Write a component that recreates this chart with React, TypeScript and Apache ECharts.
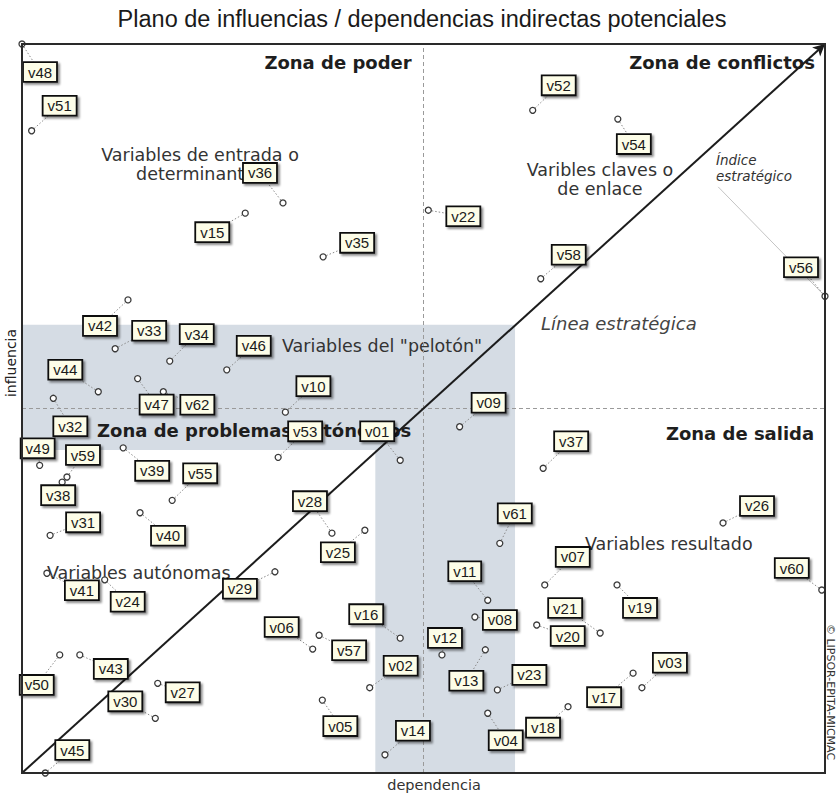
import { useEffect, useRef } from 'react';
import * as echarts from 'echarts';

// Variables (MICMAC plane, indirect potential influences / dependences)
const variables = [
  'v01','v02','v03','v04','v05','v06','v07','v08','v09','v10',
  'v11','v12','v13','v14','v15','v16','v17','v18','v19','v20',
  'v21','v22','v23','v24','v25','v26','v27','v28','v29','v30',
  'v31','v32','v33','v34','v35','v36','v37','v38','v39','v40',
  'v41','v42','v43','v44','v45','v46','v47','v48','v49','v50',
  'v51','v52','v53','v54','v55','v56','v57','v58','v59','v60',
  'v61','v62',
];

// dependence (x) in % of the axis range
const dependence = [
  47.1, 43.3, 77.2, 58.0, 37.4, 36.2, 65.1, 56.4, 54.5, 32.8,
  58.0, 52.3, 57.7, 45.2, 27.8, 47.1, 76.1, 68.0, 74.1, 64.1,
  72.0, 50.6, 59.2, 10.3, 42.7, 87.3, 16.9, 38.6, 31.5, 16.6,
  3.5, 3.9, 11.6, 18.4, 37.5, 32.5, 64.9, 5.0, 12.6, 14.7,
  3.1, 13.2, 7.2, 9.5, 2.9, 25.5, 14.4, 0.0, 2.2, 4.7,
  1.2, 63.6, 31.9, 74.2, 18.7, 100.0, 37.0, 64.6, 5.6, 99.6,
  59.5, 17.6,
];

// influence (y) in % of the axis range
const influence = [
  42.9, 11.7, 11.7, 8.2, 10.0, 17.0, 25.8, 21.4, 47.5, 49.5,
  23.7, 16.2, 16.9, 2.5, 76.8, 18.5, 13.7, 9.1, 25.8, 20.3,
  19.2, 77.2, 11.4, 26.5, 33.3, 34.3, 12.3, 32.9, 27.6, 7.5,
  32.6, 51.4, 58.2, 56.5, 70.8, 78.2, 41.8, 39.9, 44.6, 35.7,
  27.4, 64.9, 16.2, 52.3, 0.0, 55.3, 54.1, 100.0, 42.2, 16.2,
  88.1, 90.9, 43.3, 89.7, 37.4, 65.4, 18.9, 67.8, 40.6, 25.1,
  31.5, 52.3,
];

// label displacement (pixels) relative to the point
const labelOffsets = [
  [-23,-29],[31,-22],[28,-25],[18,27],[18,26],[-31,-22],[28,-28],[25,3],[29,-24],[28,-26],
  [-23,-29],[3,-17],[-19,31],[28,-24],[-33,19],[-34,-24],[-29,24],[-25,21],[23,23],[31,11],
  [-35,-25],[35,6],[32,-15],[23,22],[-27,22],[34,-17],[25,9],[-22,-32],[-35,17],[-30,-17],
  [33,-13],[17,28],[34,-18],[27,-27],[34,-14],[-23,-30],[28,-27],[-4,13],[29,23],[28,23],
  [35,17],[-28,26],[31,14],[-33,-22],[27,-23],[27,-24],[19,26],[18,28],[-2,-17],[-23,30],
  [28,-25],[26,-25],[27,-26],[16,25],[28,-27],[-24,-29],[30,15],[28,-24],[16,-22],[-30,-22],
  [15,-30],[34,13],
];

const meanDependence = 50;
const meanInfluence = 50;
// "pelotón" band
const bandDependence = [44.0, 61.4];
const bandInfluence = [44.3, 61.5];
// strategic index guide (perpendicular towards v56)
const strategicIndexLine = [[86.7, 80.4], [100, 65.4]];

const FONT = '"DejaVu Sans", Verdana, sans-serif';

function txt(text: string, x: number, y: number, opts: any = {}) {
  const align = opts.align || 'left';
  return {
    type: 'text',
    x,
    y,
    rotation: opts.rotation || 0,
    z: 4,
    silent: true,
    style: {
      text,
      fill: opts.color || '#1e1e1e',
      font: opts.font,
      align,
      textAlign: align,
      verticalAlign: 'middle',
      textVerticalAlign: 'middle',
      lineHeight: opts.lineHeight,
    },
  };
}

export default function App() {
  const ref = useRef<HTMLDivElement>(null);

  useEffect(() => {
    if (!ref.current) return;
    const chart = echarts.init(ref.current, undefined, { renderer: 'svg' });
    const data = variables.map((n, i) => [dependence[i], influence[i], n]);

    const option: any = {
      animation: false,
      backgroundColor: '#ffffff',
      grid: {
        left: 22, right: 12, top: 44, bottom: 22,
        show: true, borderColor: '#2a2a2a', borderWidth: 2, z: 10,
        backgroundColor: 'transparent',
      },
      xAxis: {
        type: 'value', min: 0, max: 100,
        axisLine: { show: false }, axisTick: { show: false },
        axisLabel: { show: false }, splitLine: { show: false },
      },
      yAxis: {
        type: 'value', min: 0, max: 100,
        axisLine: { show: false }, axisTick: { show: false },
        axisLabel: { show: false }, splitLine: { show: false },
      },
      graphic: [
        txt('Plano de influencias / dependencias indirectas potenciales', 422, 19,
          { align: 'center', font: '23.5px "Liberation Sans", Arial, sans-serif', color: '#1a1a1a' }),
        txt('Zona de poder', 338, 62, { align: 'center', font: `bold 18px ${FONT}` }),
        txt('Zona de conflictos', 722, 62, { align: 'center', font: `bold 18px ${FONT}` }),
        txt('Zona de problemas autónomos', 97, 430, { font: `bold 18px ${FONT}` }),
        txt('Zona de salida', 740, 433, { align: 'center', font: `bold 18px ${FONT}` }),
        txt('Variables de entrada o\ndeterminantes', 200, 164,
          { align: 'center', font: `17.5px ${FONT}`, lineHeight: 19, color: '#333' }),
        txt('Varibles claves o\nde enlace', 600, 179,
          { align: 'center', font: `17.5px ${FONT}`, lineHeight: 19, color: '#333' }),
        txt('Índice\nestratégico', 716, 168,
          { font: `italic 13.5px ${FONT}`, lineHeight: 16, color: '#333' }),
        txt('Línea estratégica', 541, 323, { font: `italic 18px ${FONT}`, color: '#444' }),
        txt('Variables del "pelotón"', 282, 346, { font: `17.5px ${FONT}`, color: '#333' }),
        txt('Variables autónomas', 47, 573, { font: `17.5px ${FONT}`, color: '#333' }),
        txt('Variables resultado', 585, 544, { font: `17.5px ${FONT}`, color: '#333' }),
        txt('dependencia', 434, 785, { align: 'center', font: `14.5px ${FONT}`, color: '#333' }),
        txt('influencia', 11, 363,
          { align: 'center', font: `14px ${FONT}`, color: '#222', rotation: Math.PI / 2 }),
        txt('© LIPSOR-EPITA-MICMAC', 830, 692,
          { align: 'center', font: `11px ${FONT}`, color: '#333', rotation: -Math.PI / 2 }),
      ],
      series: [
        {
          type: 'scatter',
          data: [],
          silent: true,
          z: 1,
          markArea: {
            silent: true,
            itemStyle: { color: '#d5dce4' },
            data: [
              [{ coord: [0, bandInfluence[0]] }, { coord: [bandDependence[1], bandInfluence[1]] }],
              [{ coord: [bandDependence[0], 0] }, { coord: [bandDependence[1], bandInfluence[0]] }],
            ],
          },
        },
        {
          type: 'line',
          data: [],
          silent: true,
          z: 2,
          markLine: {
            silent: true,
            symbol: ['none', 'none'],
            label: { show: false },
            lineStyle: { color: '#9a9a9a', type: [4, 3], width: 1 },
            data: [
              [{ coord: [meanDependence, 0] }, { coord: [meanDependence, 100] }],
              [{ coord: [0, meanInfluence] }, { coord: [100, meanInfluence] }],
            ],
          },
        },
        {
          type: 'line',
          data: [],
          silent: true,
          z: 3,
          markLine: {
            silent: true,
            symbol: ['none', 'none'],
            label: { show: false },
            lineStyle: { color: '#c4c4c4', type: 'solid', width: 1 },
            data: [[{ coord: strategicIndexLine[0] }, { coord: strategicIndexLine[1] }]],
          },
        },
        {
          type: 'line',
          data: [],
          silent: true,
          z: 3,
          markLine: {
            silent: true,
            symbol: ['none', 'arrow'],
            symbolSize: [9, 12],
            label: { show: false },
            lineStyle: { color: '#1c1c1c', type: 'solid', width: 2 },
            data: [[{ coord: [0, 0] }, { coord: [100, 100] }]],
          },
        },
        {
          type: 'custom',
          name: 'points',
          z: 5,
          silent: true,
          data,
          renderItem: (params: any, api: any) => {
            const p = api.coord([api.value(0), api.value(1)]);
            const off = labelOffsets[params.dataIndex];
            return {
              type: 'group',
              children: [
                {
                  type: 'line',
                  shape: { x1: p[0], y1: p[1], x2: p[0] + off[0], y2: p[1] + off[1] },
                  style: { stroke: '#8a8a8a', lineWidth: 1, lineDash: [1.5, 2] },
                },
                {
                  type: 'circle',
                  shape: { cx: p[0], cy: p[1], r: 3 },
                  style: { fill: '#ffffff', stroke: '#3a3a3a', lineWidth: 1.3 },
                },
              ],
            };
          },
        },
        {
          type: 'custom',
          name: 'labels',
          z: 6,
          silent: true,
          data,
          renderItem: (params: any, api: any) => {
            const p = api.coord([api.value(0), api.value(1)]);
            const off = labelOffsets[params.dataIndex];
            return {
              type: 'text',
              x: p[0] + off[0],
              y: p[1] + off[1],
              style: {
                text: variables[params.dataIndex],
                font: '15px "Liberation Sans", Arial, sans-serif',
                fill: '#1a1a1a',
                align: 'center',
                verticalAlign: 'middle',
                backgroundColor: '#fdfde8',
                borderColor: '#111111',
                borderWidth: 1.8,
                padding: [2, 4, 1, 4],
                shadowColor: 'rgba(0,0,0,0.45)',
                shadowBlur: 2,
                shadowOffsetX: 2,
                shadowOffsetY: 2,
              },
            };
          },
        },
      ],
    };

    chart.setOption(option);
    return () => chart.dispose();
  }, []);

  return (
    <div
      ref={ref}
      style={{ position: 'absolute', left: 0, top: 0, width: 837, height: 795, background: '#fff' }}
    />
  );
}
